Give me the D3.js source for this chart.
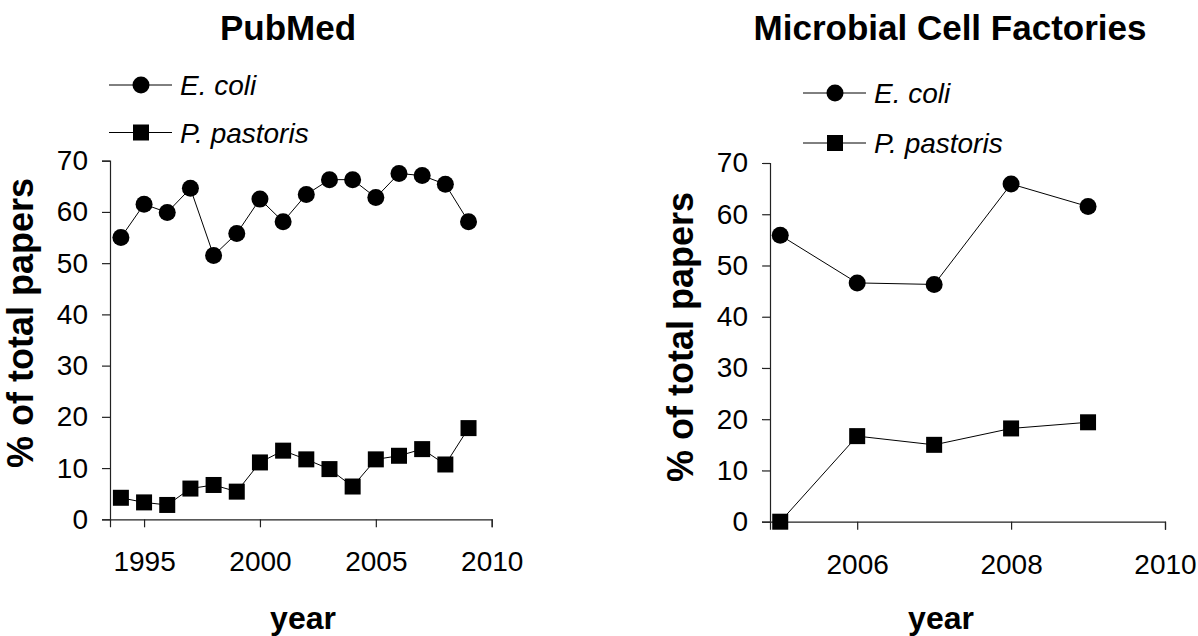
<!DOCTYPE html>
<html>
<head>
<meta charset="utf-8">
<script src="https://cdn.jsdelivr.net/npm/d3@7"></script>
<style>
  body { margin: 0; background: #fff; }
  svg { display: block; font-family: "Liberation Sans", Arial, sans-serif; }
</style>
</head>
<body>
<div id="chart"></div>
<script>
// ---- DATA ----
const yTicks = [0, 10, 20, 30, 40, 50, 60, 70];

const pubmedYears = [1994, 1995, 1996, 1997, 1998, 1999, 2000, 2001, 2002, 2003, 2004, 2005, 2006, 2007, 2008, 2009];
const pubmedEcoli = [55.0, 61.5, 59.9, 64.6, 51.5, 55.8, 62.5, 58.1, 63.4, 66.3, 66.3, 62.8, 67.5, 67.1, 65.4, 58.1];
const pubmedPastoris = [4.2, 3.3, 2.8, 6.0, 6.7, 5.4, 11.1, 13.4, 11.7, 9.8, 6.4, 11.7, 12.4, 13.7, 10.7, 17.8];
const pubmedTicks = [1995, 2000, 2005, 2010];

const mcfYears = [2005, 2006, 2007, 2008, 2009];
const mcfEcoli = [55.9, 46.6, 46.3, 65.9, 61.5];
const mcfPastoris = [0, 16.7, 15.0, 18.2, 19.4];
const mcfTicks = [2006, 2008, 2010];

const seriesNames = ["E. coli", "P. pastoris"];

const W = 1198, H = 636;

const svg = d3.select("#chart").append("svg")
    .attr("width", W)
    .attr("height", H)
    .attr("viewBox", `0 0 ${W} ${H}`);

function drawPanel(p) {
    const x = d3.scaleLinear().domain(p.xDomain).range([p.left, p.right]);
    const y = d3.scaleLinear().domain([0, 70]).range([p.bottom, p.top]);

    // title
    svg.append("text")
        .attr("x", p.titleX)
        .attr("y", 40)
        .attr("text-anchor", "middle")
        .attr("font-size", "35px")
        .attr("font-weight", "bold")
        .text(p.title);

    // axes
    const xAxis = svg.append("g")
        .attr("transform", `translate(0,${p.bottom})`)
        .call(d3.axisBottom(x).tickValues(p.ticks).tickFormat(d3.format("d"))
            .tickSizeInner(8).tickSizeOuter(8).tickPadding(24));
    const yAxis = svg.append("g")
        .attr("transform", `translate(${p.left},0)`)
        .call(d3.axisLeft(y).tickValues(yTicks)
            .tickSizeInner(8).tickSizeOuter(8).tickPadding(14));

    [xAxis, yAxis].forEach(a => {
        a.selectAll("path, line").attr("stroke", "#222").attr("stroke-width", 1.2);
        a.selectAll("text").attr("font-size", "28px").attr("fill", "#000")
            .attr("font-family", "Liberation Sans, Arial, sans-serif");
    });

    // axis titles
    svg.append("text")
        .attr("transform", `translate(${p.yLabelX},${p.yLabelY}) rotate(-90)`)
        .attr("text-anchor", "middle")
        .attr("font-size", "36px")
        .attr("font-weight", "bold")
        .text("% of total papers");

    svg.append("text")
        .attr("x", p.xLabelX)
        .attr("y", 629)
        .attr("text-anchor", "middle")
        .attr("font-size", "32px")
        .attr("font-weight", "bold")
        .text("year");

    const line = d3.line()
        .x((d, i) => x(p.years[i]))
        .y(d => y(d));

    // E. coli
    svg.append("path")
        .datum(p.ecoli)
        .attr("fill", "none")
        .attr("stroke", "#000")
        .attr("stroke-width", 1)
        .attr("d", line);
    svg.selectAll(null)
        .data(p.ecoli)
        .enter().append("circle")
        .attr("cx", (d, i) => x(p.years[i]))
        .attr("cy", d => y(d))
        .attr("r", 8.5)
        .attr("fill", "#000");

    // P. pastoris
    svg.append("path")
        .datum(p.pastoris)
        .attr("fill", "none")
        .attr("stroke", "#000")
        .attr("stroke-width", 1)
        .attr("d", line);
    svg.selectAll(null)
        .data(p.pastoris)
        .enter().append("rect")
        .attr("x", (d, i) => x(p.years[i]) - 8)
        .attr("y", d => y(d) - 8)
        .attr("width", 16)
        .attr("height", 16)
        .attr("fill", "#000");

    // legend
    const lg = svg.append("g").attr("transform", `translate(${p.legendX},${p.legendY})`);
    seriesNames.forEach((name, i) => {
        const row = lg.append("g").attr("transform", `translate(0,${i * p.legendGap})`);
        row.append("line")
            .attr("x1", 0).attr("x2", 63)
            .attr("y1", 0).attr("y2", 0)
            .attr("stroke", "#000")
            .attr("stroke-width", 1);
        if (i === 0) {
            row.append("circle").attr("cx", 32).attr("cy", 0).attr("r", 8.5).attr("fill", "#000");
        } else {
            row.append("rect").attr("x", 24).attr("y", -8).attr("width", 16).attr("height", 16).attr("fill", "#000");
        }
        row.append("text")
            .attr("x", 71)
            .attr("y", 10)
            .attr("font-size", "28px")
            .attr("font-style", "italic")
            .text(name);
    });
}

// ---- PUBMED ----
drawPanel({
    title: "PubMed", titleX: 288,
    years: pubmedYears, ecoli: pubmedEcoli, pastoris: pubmedPastoris, ticks: pubmedTicks,
    xDomain: [1993.53, 2010],
    left: 110, right: 491.7, top: 160.7, bottom: 519.3,
    yLabelX: 33, yLabelY: 323, xLabelX: 303,
    legendX: 109, legendY: 85, legendGap: 47.5
});

// ---- MICROBIAL CELL FACTORIES ----
drawPanel({
    title: "Microbial Cell Factories", titleX: 950,
    years: mcfYears, ecoli: mcfEcoli, pastoris: mcfPastoris, ticks: mcfTicks,
    xDomain: [2004.867, 2010],
    left: 770, right: 1165, top: 163, bottom: 521.7,
    yLabelX: 693, yLabelY: 337, xLabelX: 941,
    legendX: 803, legendY: 93, legendGap: 50
});
</script>
</body>
</html>
